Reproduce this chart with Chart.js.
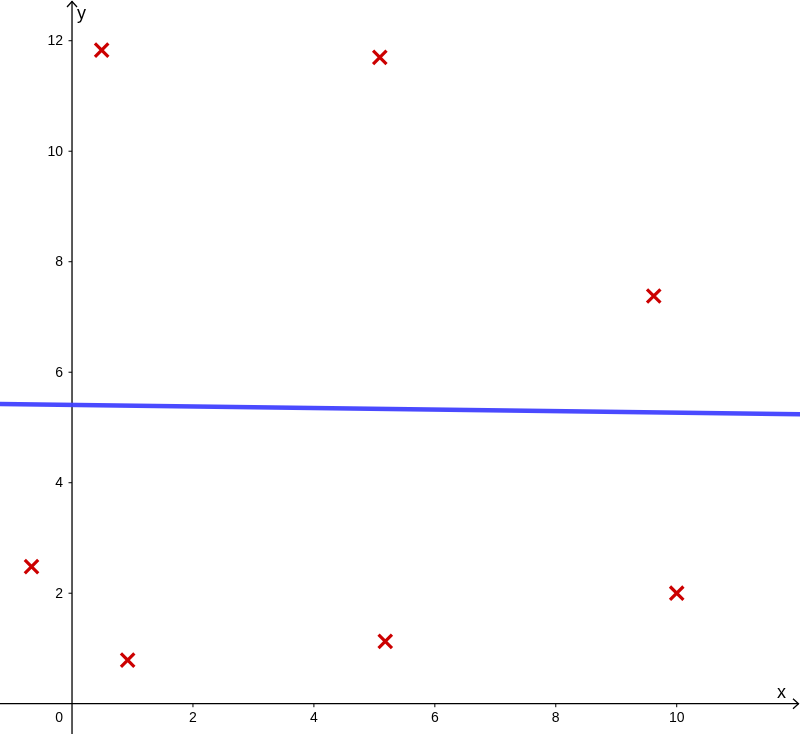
<!DOCTYPE html>
<html>
<head>
<meta charset="utf-8">
<script src="https://cdn.jsdelivr.net/npm/chart.js@4"></script>
<style>
html,body{margin:0;padding:0;background:#fff;}
#wrap{width:800px;height:734px;}
</style>
</head>
<body>
<div id="wrap"><canvas id="c" width="800" height="734"></canvas></div>
<script>
const pointsX = [-0.67, 0.49, 0.92, 5.09, 5.18, 9.62, 10.0];
const pointsY = [2.48, 11.83, 0.79, 11.70, 1.13, 7.38, 2.00];
const lineX = [-1.2, 12.05];
const lineY = [5.425, 5.24];
const xTicks = [0, 2, 4, 6, 8, 10];
const yTicks = [2, 4, 6, 8, 10, 12];
const xRange = [-1.191, 12.039];
const yRange = [-0.548, 12.737];

const axesPlugin = {
  id: 'geoAxes',
  beforeDatasetsDraw(chart) {
    const ctx = chart.ctx;
    const xs = chart.scales.x, ys = chart.scales.y;
    const x0 = xs.getPixelForValue(0), y0 = ys.getPixelForValue(0);
    const W = chart.width, H = chart.height;
    ctx.save();
    ctx.strokeStyle = '#000';
    ctx.lineWidth = 1.3;
    ctx.beginPath(); ctx.moveTo(0, y0); ctx.lineTo(W - 1, y0); ctx.stroke();
    ctx.beginPath(); ctx.moveTo(x0, H); ctx.lineTo(x0, 1); ctx.stroke();
    ctx.beginPath();
    ctx.moveTo(x0 - 5, 7); ctx.lineTo(x0, 1.5); ctx.lineTo(x0 + 5, 7);
    ctx.moveTo(W - 7, y0 - 5); ctx.lineTo(W - 1.5, y0); ctx.lineTo(W - 7, y0 + 5);
    ctx.stroke();
    ctx.fillStyle = '#000';
    ctx.font = '14px "Liberation Sans", Arial, sans-serif';
    ctx.lineWidth = 1;
    xTicks.forEach(v => {
      const px = xs.getPixelForValue(v);
      if (v === 0) {
        ctx.textAlign = 'right'; ctx.textBaseline = 'middle';
        ctx.fillText('0', x0 - 9, y0 + 14.5);
        return;
      }
      ctx.beginPath(); ctx.moveTo(px, y0); ctx.lineTo(px, y0 + 3.5); ctx.stroke();
      ctx.textAlign = 'center'; ctx.textBaseline = 'middle';
      ctx.fillText(String(v), px, y0 + 14.5);
    });
    yTicks.forEach(v => {
      const py = ys.getPixelForValue(v);
      ctx.beginPath(); ctx.moveTo(x0 - 3.5, py); ctx.lineTo(x0, py); ctx.stroke();
      ctx.textAlign = 'right'; ctx.textBaseline = 'middle';
      ctx.fillText(String(v), x0 - 9, py + 0.5);
    });
    ctx.font = '18px "Liberation Sans", Arial, sans-serif';
    ctx.textAlign = 'left'; ctx.textBaseline = 'alphabetic';
    ctx.fillText('y', x0 + 5, 19);
    ctx.fillText('x', W - 23, y0 - 6);
    ctx.restore();
  }
};

new Chart(document.getElementById('c'), {
  type: 'scatter',
  data: {
    datasets: [
      {
        type: 'line',
        data: lineX.map((x, i) => ({x, y: lineY[i]})),
        borderColor: 'rgba(64,64,255,0.95)',
        borderWidth: 4.5,
        pointRadius: 0,
        fill: false,
        clip: false,
        order: 2
      },
      {
        data: pointsX.map((x, i) => ({x, y: pointsY[i]})),
        pointStyle: 'crossRot',
        pointRadius: 9.5,
        borderColor: '#cc0000',
        backgroundColor: '#cc0000',
        pointBorderWidth: 3.2,
        borderWidth: 3.2,
        clip: false,
        order: 1
      }
    ]
  },
  options: {
    responsive: false,
    animation: false,
    layout: {padding: 0, autoPadding: false},
    plugins: {legend: {display: false}, tooltip: {enabled: false}},
    scales: {
      x: {type: 'linear', min: xRange[0], max: xRange[1], display: false},
      y: {type: 'linear', min: yRange[0], max: yRange[1], display: false}
    }
  },
  plugins: [axesPlugin]
});
</script>
</body>
</html>
